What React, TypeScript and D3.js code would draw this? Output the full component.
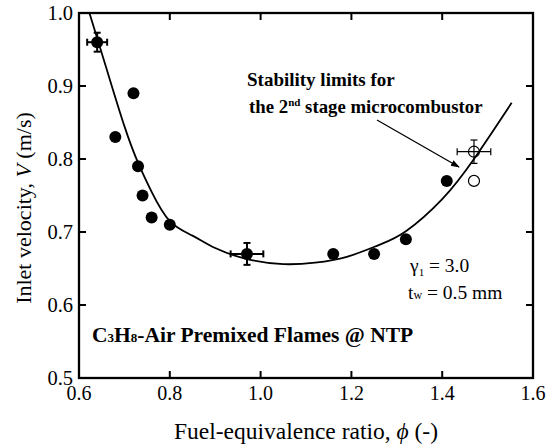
import React from "react";
import * as d3 from "d3";

// Filled symbols (measured stability limits)
const filledPhi = [0.64, 0.68, 0.72, 0.73, 0.74, 0.76, 0.80, 0.97, 1.16, 1.25, 1.32, 1.41];
const filledV = [0.96, 0.83, 0.89, 0.79, 0.75, 0.72, 0.71, 0.67, 0.67, 0.67, 0.69, 0.77];
// Open symbols (2nd stage microcombustor)
const openPhi = [1.47, 1.47];
const openV = [0.81, 0.77];
// Error bars
const errPhi = [0.64, 0.97, 1.47];
const errV = [0.96, 0.67, 0.81];
const errDPhi = [0.022, 0.036, 0.037];
const errDV = [0.013, 0.015, 0.016];
const errFilled = [true, true, false];
// Fitted curve
const curvePhi = [0.623, 0.66, 0.70, 0.73, 0.76, 0.80, 0.85, 0.90, 0.97, 1.05, 1.12, 1.19, 1.26, 1.32, 1.40, 1.47, 1.553];
const curveV = [1.0, 0.925, 0.845, 0.795, 0.755, 0.715, 0.695, 0.678, 0.663, 0.656, 0.658, 0.666, 0.682, 0.701, 0.745, 0.80, 0.877];

const xTicks = [0.6, 0.8, 1.0, 1.2, 1.4, 1.6];
const yTicks = [0.5, 0.6, 0.7, 0.8, 0.9, 1.0];

const W = 555, H = 446;
const left = 79, right = 533, top = 13, bottom = 378;
const FONT = "Liberation Serif";

export default function App() {
  const x = d3.scaleLinear().domain([0.6, 1.6]).range([left, right]);
  const y = d3.scaleLinear().domain([0.5, 1.0]).range([bottom, top]);
  const line = d3
    .line<number>()
    .x((_, i) => x(curvePhi[i]))
    .y((_, i) => y(curveV[i]))
    .curve(d3.curveNatural);
  const curvePath = line(curvePhi) || "";
  const tl = 7;
  const cap = 3.5;
  const ts = { fontFamily: FONT } as React.CSSProperties;

  return (
    <svg width={W} height={H} style={{ position: "absolute", left: 0, top: 0, background: "#fff", fontFamily: FONT }}>
      <defs>
        <clipPath id="plotclip">
          <rect x={left} y={top} width={right - left} height={bottom - top} />
        </clipPath>
        <marker id="arrow" viewBox="0 0 10 10" refX="9" refY="5" markerWidth="9" markerHeight="9" orient="auto" markerUnits="userSpaceOnUse">
          <path d="M0,1.5 L10,5 L0,8.5 z" fill="#000" />
        </marker>
      </defs>
      <rect x={0} y={0} width={W} height={H} fill="#fff" />
      <path d={curvePath} fill="none" stroke="#000" strokeWidth={1.8} clipPath="url(#plotclip)" />
      {errPhi.map((p, i) => {
        const cx = x(p), cy = y(errV[i]);
        const x0 = x(p - errDPhi[i]), x1 = x(p + errDPhi[i]);
        const y0 = y(errV[i] - errDV[i]), y1 = y(errV[i] + errDV[i]);
        const sw = errFilled[i] ? 2 : 1.2;
        return (
          <g key={"e" + i} stroke="#000" strokeWidth={sw}>
            <line x1={x0} x2={x1} y1={cy} y2={cy} />
            <line x1={cx} x2={cx} y1={y0} y2={y1} />
            <line x1={x0} x2={x0} y1={cy - cap} y2={cy + cap} />
            <line x1={x1} x2={x1} y1={cy - cap} y2={cy + cap} />
            <line x1={cx - cap} x2={cx + cap} y1={y0} y2={y0} />
            <line x1={cx - cap} x2={cx + cap} y1={y1} y2={y1} />
          </g>
        );
      })}
      {filledPhi.map((p, i) => (
        <circle key={"f" + i} cx={x(p)} cy={y(filledV[i])} r={6} fill="#000" />
      ))}
      {openPhi.map((p, i) => (
        <circle key={"o" + i} cx={x(p)} cy={y(openV[i])} r={5.5} fill="none" stroke="#000" strokeWidth={1.2} />
      ))}
      <rect x={left} y={top} width={right - left} height={bottom - top} fill="none" stroke="#000" strokeWidth={2.3} />
      {xTicks.map((t) => (
        <g key={"xt" + t} stroke="#000" strokeWidth={2}>
          <line x1={x(t)} x2={x(t)} y1={bottom} y2={bottom - tl} />
          <line x1={x(t)} x2={x(t)} y1={top} y2={top + tl} />
        </g>
      ))}
      {yTicks.map((t) => (
        <g key={"yt" + t} stroke="#000" strokeWidth={2}>
          <line x1={left} x2={left + tl} y1={y(t)} y2={y(t)} />
          <line x1={right} x2={right - tl} y1={y(t)} y2={y(t)} />
        </g>
      ))}
      {xTicks.map((t) => (
        <text key={"xl" + t} x={x(t)} y={400} textAnchor="middle" fontSize={20} style={ts}>
          {t.toFixed(1)}
        </text>
      ))}
      {yTicks.map((t) => (
        <text key={"yl" + t} x={73} y={y(t) + 6.5} textAnchor="end" fontSize={20.5} style={ts}>
          {t.toFixed(1)}
        </text>
      ))}
      <text x={306} y={439} textAnchor="middle" fontSize={23.5} style={ts}>
        Fuel-equivalence ratio, <tspan fontStyle="italic">ϕ</tspan> (-)
      </text>
      <text transform="translate(31,208) rotate(-90)" textAnchor="middle" fontSize={22} style={ts}>
        Inlet velocity, <tspan fontStyle="italic">V</tspan> (m/s)
      </text>
      <text x={247} y={86} fontSize={19} fontWeight="bold" style={ts}>Stability limits for</text>
      <text x={249} y={113} fontSize={18.8} fontWeight="bold" style={ts}>
        the 2<tspan fontSize={11} dy={-7}>nd</tspan><tspan dy={7}> stage microcombustor</tspan>
      </text>
      <line x1={377} y1={120} x2={459} y2={167} stroke="#000" strokeWidth={1.3} markerEnd="url(#arrow)" />
      <text x={410} y={272} fontSize={19.5} style={ts}>
        γ<tspan fontSize={11} dy={4}>1</tspan><tspan dy={-4}> = 3.0</tspan>
      </text>
      <text x={408} y={299} fontSize={19.5} style={ts}>
        t<tspan fontSize={12}>w</tspan> = 0.5 mm
      </text>
      <text x={92} y={342} fontSize={21.5} fontWeight="bold" style={ts}>
        C<tspan fontSize={13}>3</tspan>H<tspan fontSize={13}>8</tspan>-Air Premixed Flames @ NTP
      </text>
    </svg>
  );
}
